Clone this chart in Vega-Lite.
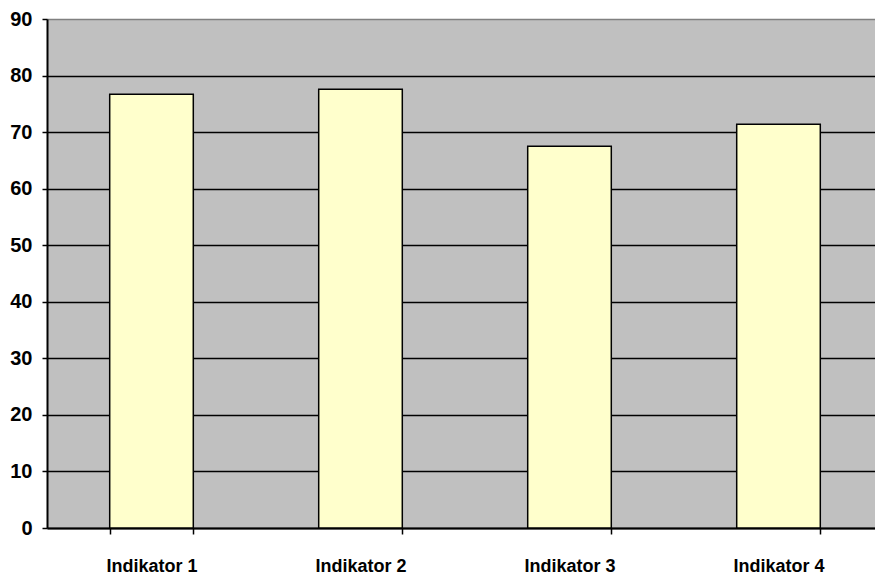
{
  "$schema": "https://vega.github.io/schema/vega-lite/v6.json",
  "width": 836,
  "height": 509,
  "autosize": {"type": "none"},
  "padding": {"left": 47, "top": 19, "right": 0, "bottom": 48},
  "background": "white",
  "view": {"fill": "#c0c0c0", "stroke": null},
  "data": {
    "values": [
      {"indikator": "Indikator 1", "wert": 76.7},
      {"indikator": "Indikator 2", "wert": 77.6},
      {"indikator": "Indikator 3", "wert": 67.5},
      {"indikator": "Indikator 4", "wert": 71.4}
    ]
  },
  "mark": {"type": "bar", "fill": "#ffffcc", "stroke": "black", "strokeWidth": 1.5},
  "encoding": {
    "x": {
      "field": "indikator",
      "type": "nominal",
      "sort": null,
      "scale": {"paddingInner": 0.6, "paddingOuter": 0.3},
      "axis": {
        "title": null,
        "labelAngle": 0,
        "tickBand": "extent",
        "domainColor": "black",
        "domainWidth": 2,
        "tickColor": "black",
        "tickWidth": 1.5,
        "tickSize": 6,
        "labelPadding": 23,
        "labelFont": "Liberation Sans",
        "labelFontWeight": "bold",
        "labelFontSize": 18,
        "labelColor": "black",
        "grid": false
      }
    },
    "y": {
      "field": "wert",
      "type": "quantitative",
      "scale": {"domain": [0, 90], "nice": false},
      "axis": {
        "title": null,
        "values": [0, 10, 20, 30, 40, 50, 60, 70, 80, 90],
        "domainColor": "black",
        "domainWidth": 2,
        "tickColor": "black",
        "tickWidth": 1.5,
        "tickSize": 5,
        "labelPadding": 10,
        "labelFont": "Liberation Sans",
        "labelFontWeight": "bold",
        "labelFontSize": 20,
        "labelColor": "black",
        "grid": true,
        "gridColor": {"condition": {"test": "datum.value === 90", "value": "#808080"}, "value": "black"},
        "gridWidth": 1.5,
        "gridOpacity": 1
      }
    }
  }
}
